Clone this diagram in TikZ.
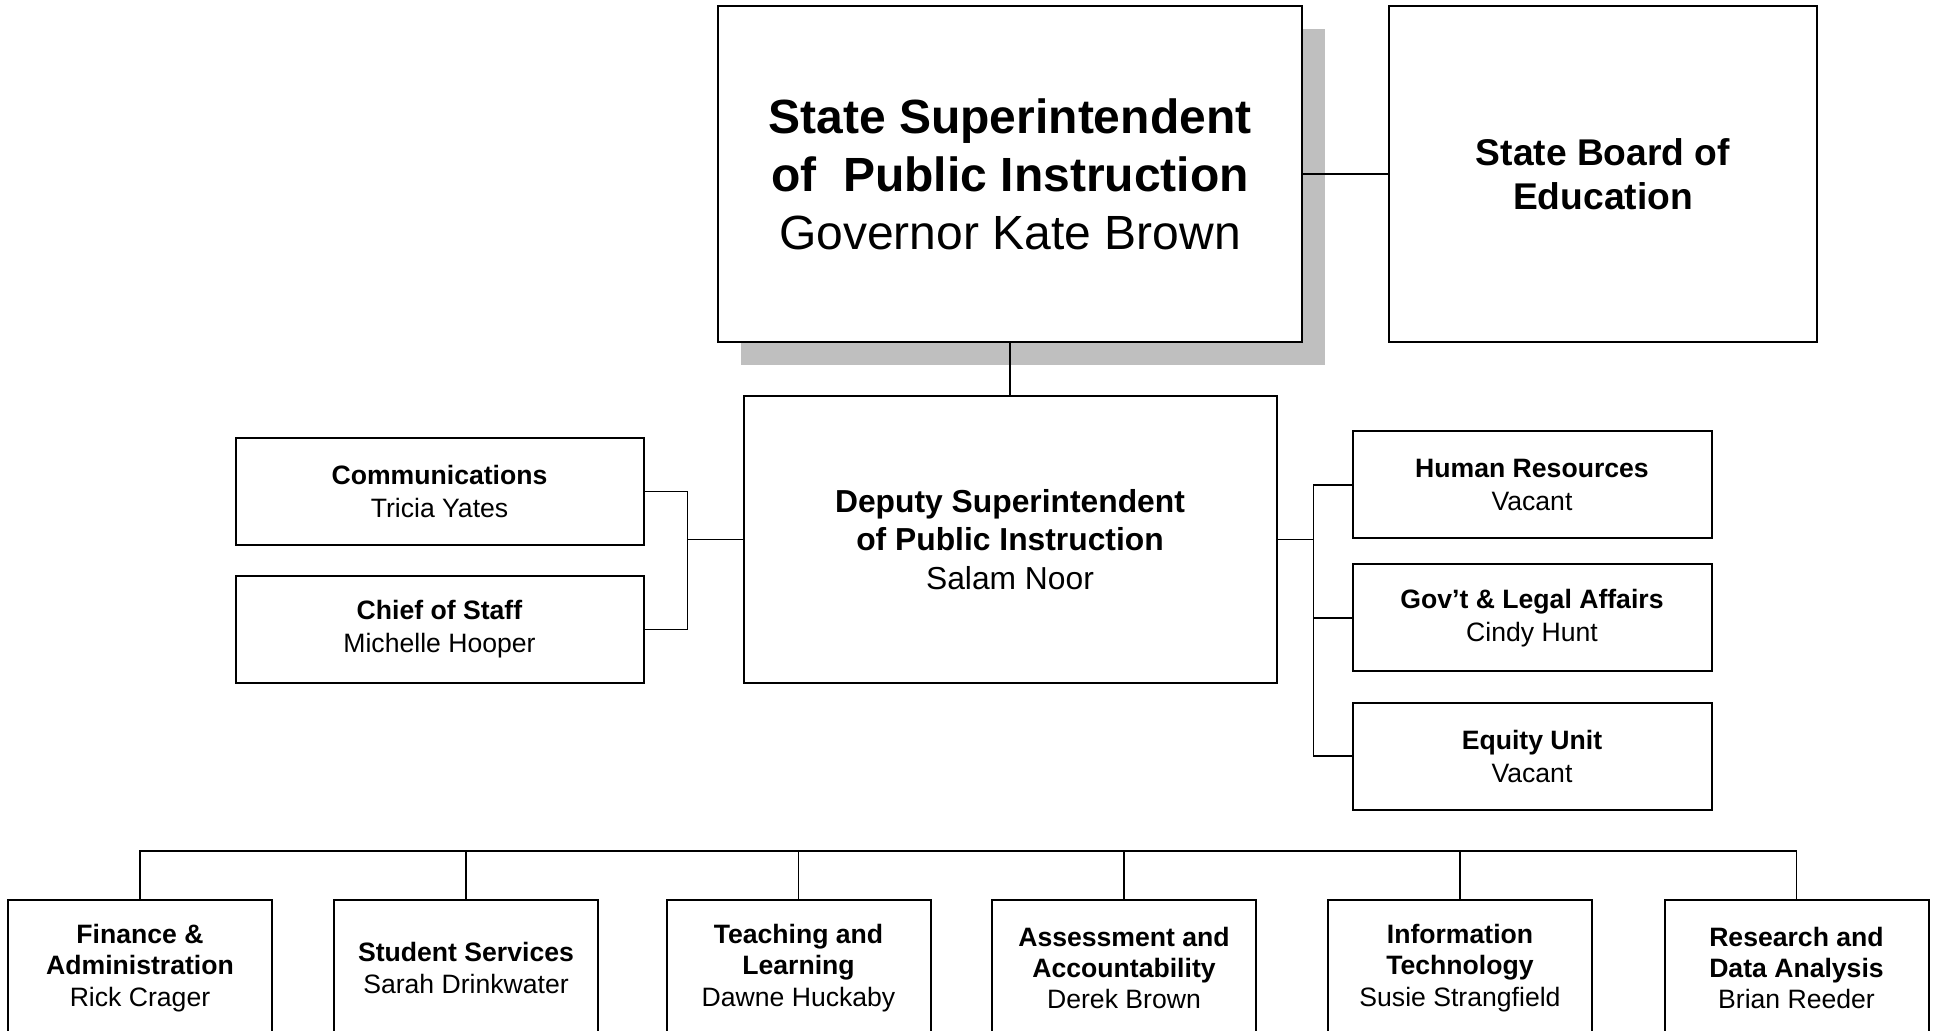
\documentclass[tikz,border=0pt]{standalone}
\usepackage{fontspec}
\setmainfont{Liberation Sans}
\usepackage{tikz}
\usetikzlibrary{positioning, shadows}

\begin{document}
\begin{tikzpicture}[
		box/.style={
			rectangle,
			draw=black, line width=1pt,
			fill=white,
			align=center,
			inner sep=0pt},
		topbox/.style={box, minimum width=292pt, minimum height=168pt},
		sidebox/.style={box, minimum width=204pt, minimum height=53.5pt,
			font=\fontsize{13.3}{16.5}\selectfont},
		staffbox/.style={box, minimum width=179.5pt, minimum height=53.5pt,
			font=\fontsize{13.3}{16.5}\selectfont},
		unitbox/.style={box, minimum width=132pt, minimum height=68pt,
			font=\fontsize{13.3}{15.7}\selectfont},
		link/.style={draw, line width=0.75pt},
		node distance=26pt and 42.5pt]
		\useasboundingbox (0,0) rectangle (967pt,-515pt);
		\node[topbox, drop shadow={shadow xshift=11.5pt, shadow yshift=-11.5pt, fill=black!25, opacity=1},
			font=\fontsize{24}{29}\selectfont] (super) at (505pt,-87pt)
			{\textbf{State Superintendent}\\\textbf{of\ \ Public Instruction}\\Governor Kate Brown};
		\node[topbox, minimum width=214pt, font=\fontsize{18.6}{22}\selectfont, right=of super] (board)
			{\textbf{State Board of}\\\textbf{Education}};
		\node[box, minimum width=266.5pt, minimum height=143.5pt,
			font=\fontsize{15.9}{19.4}\selectfont, below=of super] (dep)
			{\textbf{Deputy Superintendent}\\\textbf{of Public Instruction}\\Salam Noor};
		\node[sidebox, above left=0pt and 49pt of dep.south west] (chief) {\textbf{Chief of Staff}\\Michelle Hooper};
		\node[sidebox, above=14.5pt of chief] (comm) {\textbf{Communications}\\Tricia Yates};
		\node[staffbox, below right=17.7pt and 37pt of dep.north east] (hr) {\textbf{Human Resources}\\Vacant};
		\node[staffbox, below=12pt of hr] (gov) {\textbf{Gov’t \& Legal Affairs}\\Cindy Hunt};
		\node[staffbox, below=14.6pt of gov] (eq) {\textbf{Equity Unit}\\Vacant};
		\node[unitbox, anchor=north] (fin) at (70pt,-449.5pt)
			{\textbf{Finance \&}\\\textbf{Administration}\\Rick Crager};
		\node[unitbox, right=30pt of fin] (stu) {\textbf{Student Services}\\Sarah Drinkwater};
		\node[unitbox, right=33.25pt of stu] (teach) {\textbf{Teaching and}\\\textbf{Learning}\\Dawne Huckaby};
		\node[unitbox, right=29.75pt of teach] (assess) {\textbf{Assessment and}\\\textbf{Accountability}\\Derek Brown};
		\node[unitbox, right=35pt of assess] (it) {\textbf{Information}\\\textbf{Technology}\\Susie Strangfield};
		\node[unitbox, right=35.25pt of it] (res) {\textbf{Research and}\\\textbf{Data Analysis}\\Brian Reeder};
		\draw[link] (super) -- (board);
		\draw[link] (super) -- (dep);
		\coordinate[left=27.5pt of dep.west] (ljoin);
		\draw[link] (dep.west) -- (ljoin);
		\draw[link] (comm.east) -| (ljoin) |- (chief.east);
		\coordinate[right=18pt of dep.east] (rjoin);
		\draw[link] (dep.east) -- (rjoin);
		\draw[link] (hr.west) -| (rjoin) |- (eq.west);
		\draw[link] (gov.west) -- (gov.west -| rjoin);
		\draw[link] (fin.north) -- ++(0,24pt) coordinate (bus) -| (res.north);
		\foreach \u in {stu, teach, assess, it}
			\draw[link] (\u.north) -- (\u.north |- bus);
	\end{tikzpicture}
\end{document}
